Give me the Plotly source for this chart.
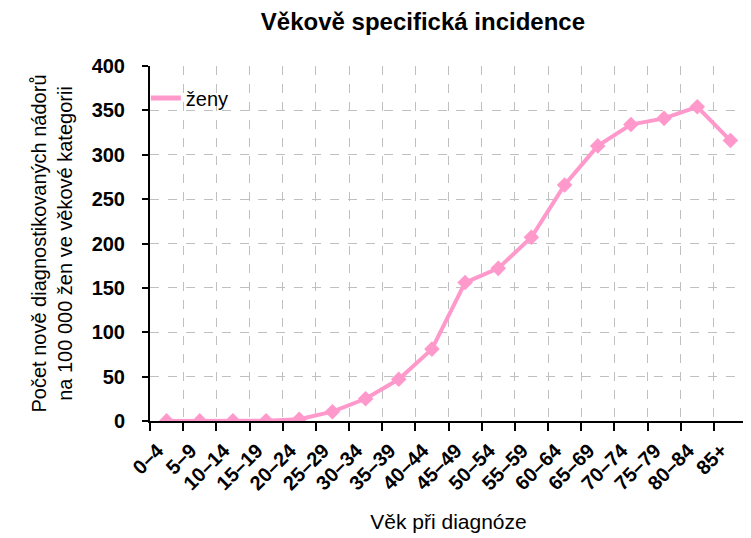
import plotly.graph_objects as go

age_groups = ['0–4', '5–9', '10–14', '15–19', '20–24', '25–29', '30–34', '35–39', '40–44',
              '45–49', '50–54', '55–59', '60–64', '65–69', '70–74', '75–79', '80–84', '85+']
incidence_women = [0.1, 0.1, 0.2, 0.3, 2, 10.5, 25, 47, 81, 156, 172, 207, 266, 310, 334, 341, 354, 316]
y_ticks = [0, 50, 100, 150, 200, 250, 300, 350, 400]

pink = '#ff99cc'
font_family = 'Arial, Liberation Sans, sans-serif'

fig = go.Figure()

# main series (line + diamond markers)
fig.add_trace(go.Scatter(
    x=age_groups, y=incidence_women,
    mode='lines+markers',
    name='ženy',
    line=dict(color=pink, width=4),
    marker=dict(symbol='diamond', size=12, color=pink),
    showlegend=False,
))

# legend entry shows only the line sample
fig.add_trace(go.Scatter(
    x=[None], y=[None],
    mode='lines',
    name='ženy',
    line=dict(color=pink, width=5),
))

# page body adds an 8px margin, so the figure is a bit smaller than the window
fig.update_layout(
    width=743, height=530,
    margin=dict(l=142, r=4, t=58, b=117, autoexpand=False),
    paper_bgcolor='white',
    plot_bgcolor='white',
    font=dict(family=font_family, color='black', size=20),
    title=dict(text='Věkově specifická incidence', x=0.5585, xanchor='center',
               y=0.974, yanchor='middle', font=dict(size=24, weight='bold')),
    legend=dict(x=-0.007, y=0.965, xanchor='left', yanchor='top',
                bgcolor='rgba(0,0,0,0)', font=dict(size=20),
                itemwidth=30, tracegroupgap=0),
)

fig.update_xaxes(
    type='category',
    categoryorder='array', categoryarray=age_groups,
    range=[-0.5, len(age_groups) - 0.5],
    tickson='boundaries',
    ticks='outside', ticklen=8, tickwidth=1.5, tickcolor='black',
    tickangle=-45,
    tickfont=dict(size=20, weight='bold'),
    ticklabelstandoff=8, ticklabelshift=-9,
    showline=True, linecolor='black', linewidth=2,
    showgrid=True, gridcolor='#c0c0c0', griddash='dash', gridwidth=1,
    automargin=False,
    title=dict(text='Věk při diagnóze', font=dict(size=21), standoff=21),
)

fig.update_yaxes(
    range=[0, 400],
    tickvals=y_ticks,
    ticks='outside', ticklen=6, tickwidth=1.5, tickcolor='black',
    tickfont=dict(size=20, weight='bold'),
    ticklabelstandoff=13,
    showline=True, linecolor='black', linewidth=2,
    showgrid=True, gridcolor='#c0c0c0', griddash='dash', gridwidth=1,
    zeroline=False,
    automargin=False,
    title=dict(text='Počet nově diagnostikovaných nádorů<br>na 100 000 žen ve věkové kategorii',
               font=dict(size=20), standoff=14),
)

fig.write_html('out.html')
